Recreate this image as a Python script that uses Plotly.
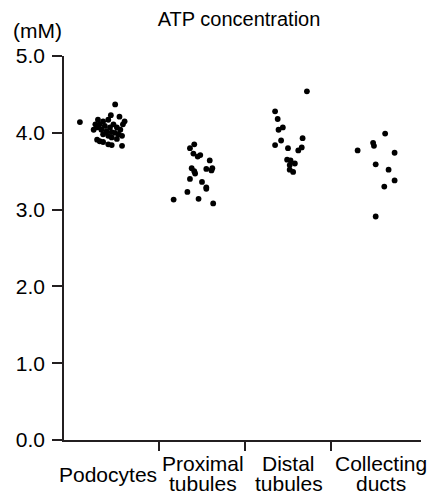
import plotly.graph_objects as go

categories = ["Podocytes", "Proximal\ntubules", "Distal\ntubules", "Collecting\nducts"]
y_ticks = [0.0, 1.0, 2.0, 3.0, 4.0, 5.0]

# ATP concentration (mM) per cell, with horizontal jitter
podocytes_y = [4.37, 4.14, 4.23, 4.21, 4.17, 4.15, 4.15, 4.17, 4.11, 4.11, 4.11, 4.11,
               4.09, 4.07, 4.07, 4.07, 4.04, 4.04, 4.04, 4.02, 4.01, 4.00, 3.98, 3.98,
               3.96, 3.96, 3.94, 3.91, 3.92, 3.88, 3.85, 3.84, 3.83, 3.89]
podocytes_jit = [-0.01, -0.42, -0.06, 0.04, -0.21, 0.10, -0.15, -0.09, -0.03, 0.08, -0.24, -0.19,
                 -0.13, -0.22, -0.07, 0.01, 0.05, -0.26, -0.17, -0.11, -0.05, -0.01, 0.03, -0.15,
                 -0.09, 0.07, -0.05, -0.22, 0.01, -0.15, -0.09, -0.05, 0.07, -0.19]

proximal_y = [3.85, 3.80, 3.73, 3.71, 3.69, 3.64, 3.54, 3.53, 3.54, 3.51, 3.50, 3.47,
              3.40, 3.36, 3.29, 3.27, 3.23, 3.13, 3.14, 3.08]
proximal_jit = [-0.09, -0.14, -0.10, -0.02, -0.05, 0.09, -0.12, 0.05, 0.12, 0.11, -0.09, -0.08,
                -0.14, 0.00, 0.05, 0.05, -0.17, -0.33, -0.04, 0.13]

distal_y = [4.54, 4.28, 4.18, 4.07, 4.04, 3.90, 3.93, 3.84, 3.80, 3.81, 3.77, 3.65,
            3.64, 3.60, 3.58, 3.52, 3.49]
distal_jit = [0.22, -0.15, -0.12, -0.06, -0.11, -0.08, 0.17, -0.15, 0.00, 0.16, 0.12, -0.01,
              0.03, 0.08, 0.02, 0.02, 0.06]

collecting_y = [3.99, 3.87, 3.83, 3.77, 3.74, 3.59, 3.52, 3.38, 3.30, 2.91]
collecting_jit = [0.13, -0.01, 0.00, -0.19, 0.24, 0.02, 0.17, 0.24, 0.12, 0.02]

groups = [
    (podocytes_y, podocytes_jit),
    (proximal_y, proximal_jit),
    (distal_y, distal_jit),
    (collecting_y, collecting_jit),
]

FONT = "Liberation Sans, Arial, sans-serif"
INK = "#231f20"
W, H = 436, 492
L, R, T, B = 64, 15, 56, 52

fig = go.Figure()
for i, (ys, js) in enumerate(groups):
    fig.add_trace(go.Scatter(
        x=[i + j for j in js], y=ys, mode="markers",
        marker=dict(color="black", size=5.8, line=dict(width=0)),
        showlegend=False, hoverinfo="y", cliponaxis=False,
    ))

# category labels (line by line, tight line spacing as in reference)
label_xshift = [-8.5, 1, 1, 7]
for i, name in enumerate(categories):
    lines = name.split("\n")
    offsets = [-34] if len(lines) == 1 else [-23, -43]
    for line, off in zip(lines, offsets):
        fig.add_annotation(
            x=i, y=0, xref="x", yref="paper", text=line, showarrow=False,
            xanchor="center", yanchor="middle", yshift=off, xshift=label_xshift[i],
            font=dict(family=FONT, size=21, color="black"),
        )

pw, ph = W - L - R, H - T - B
fig.add_annotation(
    x=(37 - L) / pw, y=(H - B - 30) / ph, xref="paper", yref="paper", text="(mM)",
    showarrow=False, xanchor="center", yanchor="middle",
    font=dict(family=FONT, size=21, color="black"),
)

fig.update_layout(
    width=W, height=H,
    margin=dict(l=L, r=R, t=T, b=B, autoexpand=False),
    paper_bgcolor="white", plot_bgcolor="white",
    title=dict(text="ATP concentration", x=239 / W, xanchor="center",
               y=1 - 19 / H, yanchor="middle",
               font=dict(family=FONT, size=20, color="black")),
    font=dict(family=FONT, size=21, color="black"),
    xaxis=dict(range=[-0.605, 3.547], tickvals=[0.5, 1.5, 2.5], showticklabels=False,
               ticks="outside", ticklen=9, tickwidth=1.5, tickcolor=INK,
               showline=True, linecolor=INK, linewidth=1.5, showgrid=False,
               zeroline=False),
    yaxis=dict(range=[0, 5], tickvals=y_ticks, tickformat=".1f",
               ticks="outside", ticklen=10, tickwidth=1.5, tickcolor=INK,
               showline=True, linecolor=INK, linewidth=1.5, showgrid=False,
               zeroline=False, ticklabelstandoff=3,
               tickfont=dict(family=FONT, size=21, color="black")),
)

fig.write_html("out.html", config={"displayModeBar": False},
               post_script="document.body.style.margin='0';")
